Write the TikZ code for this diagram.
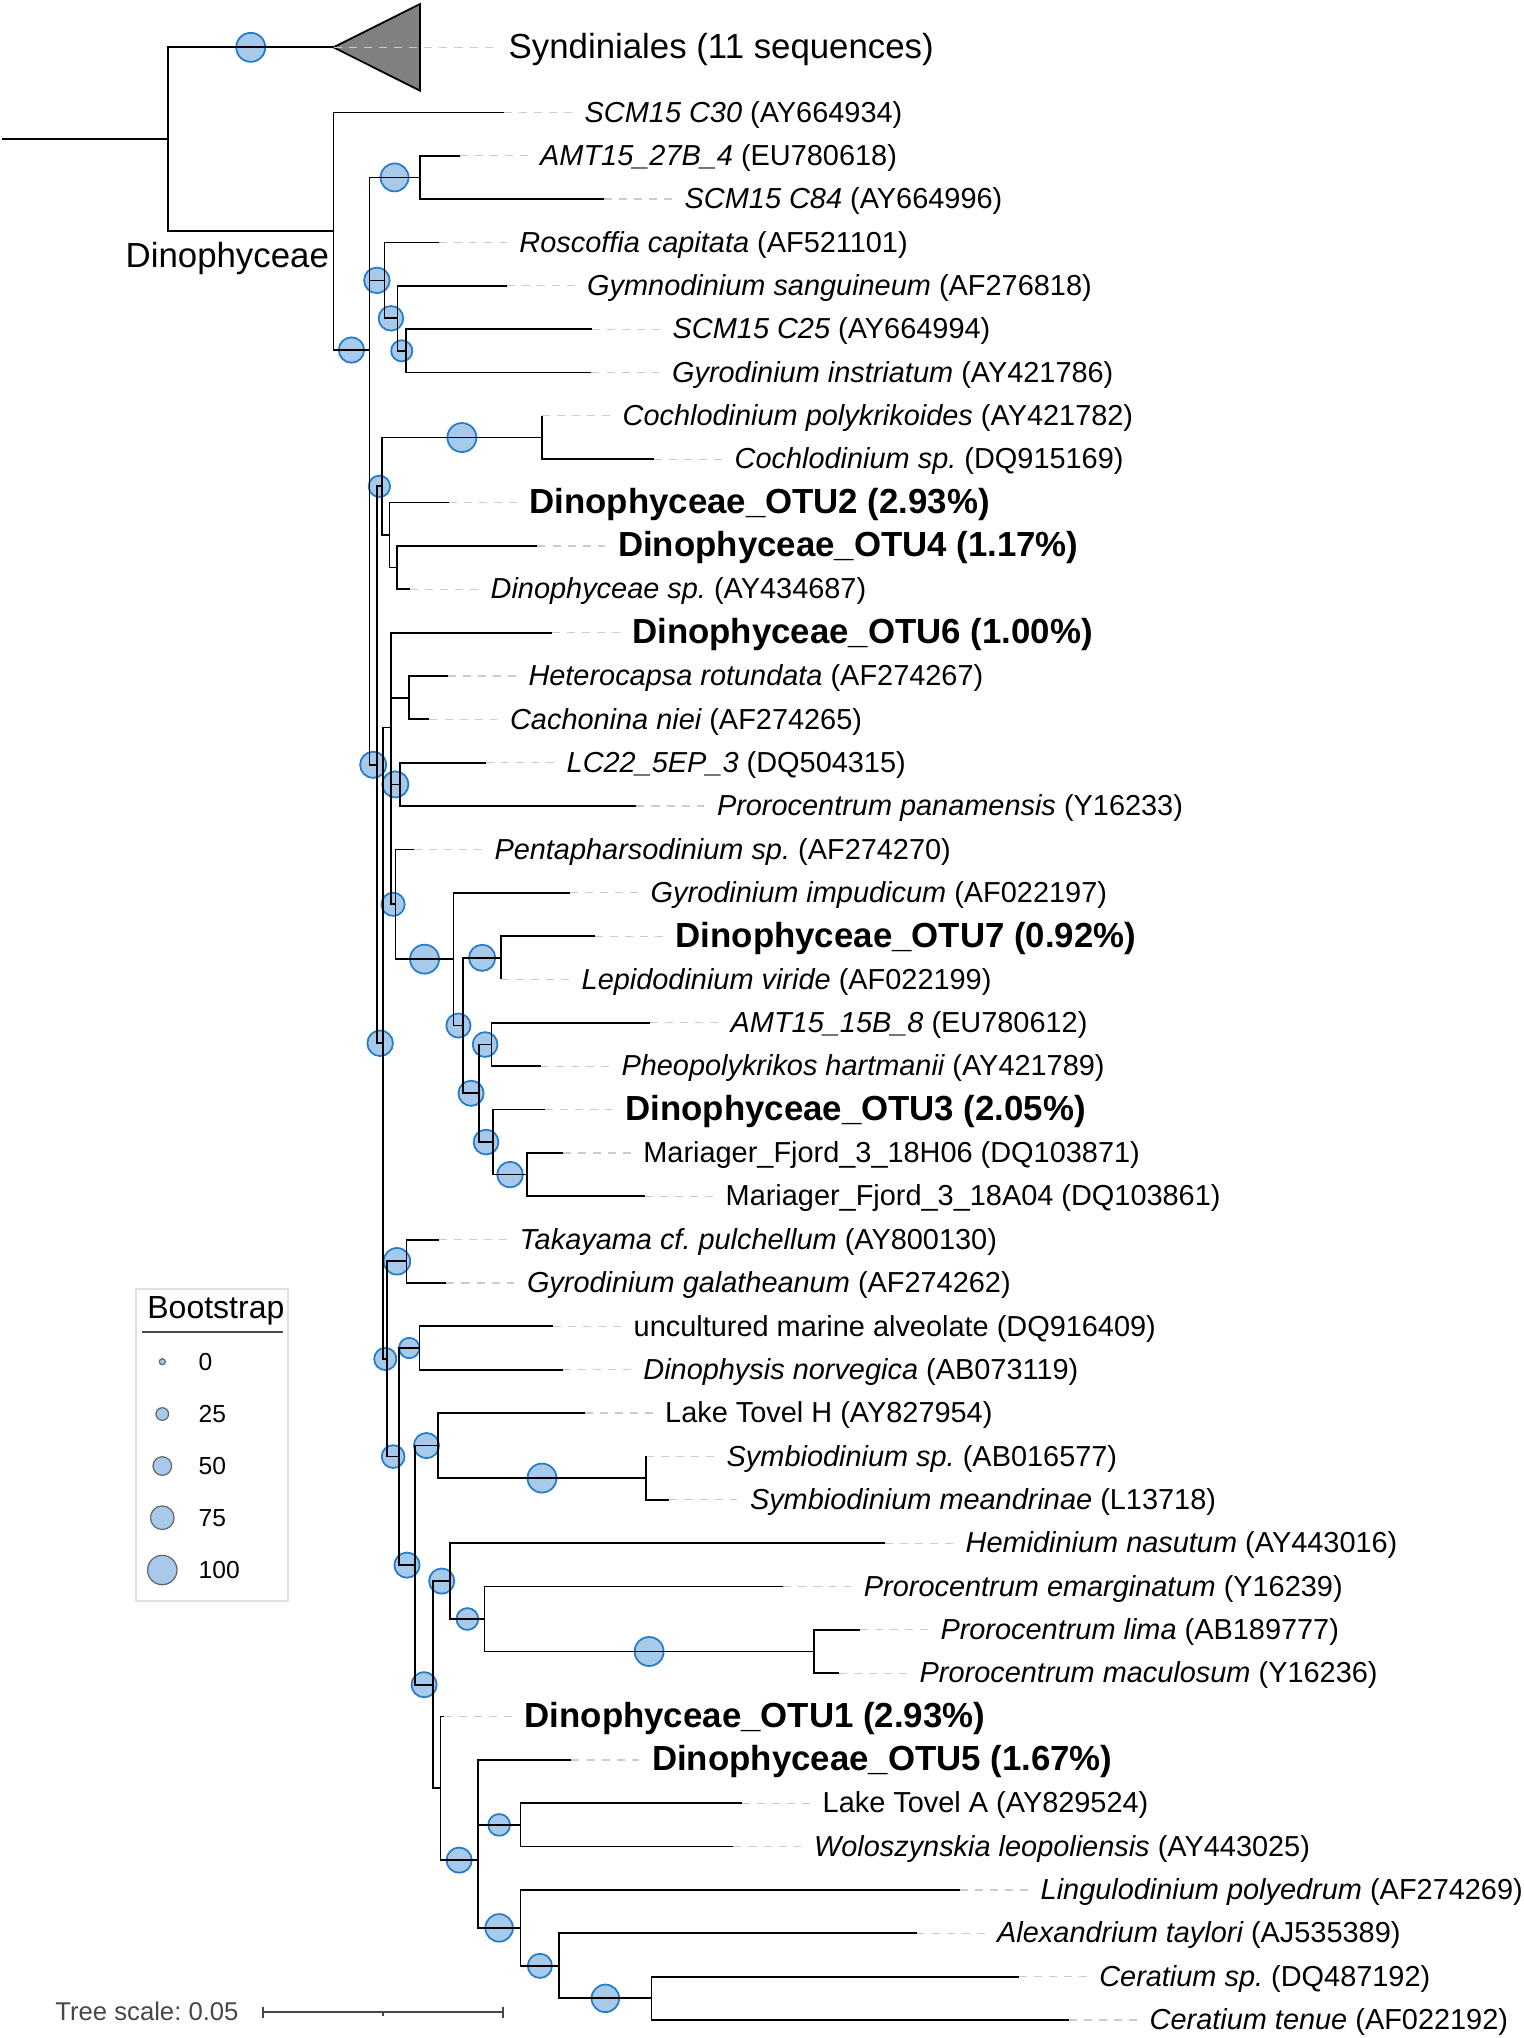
\documentclass[tikz,border=0pt]{standalone}
\usepackage{fontspec}
\setmainfont{Liberation Sans}
\usetikzlibrary{calc}
\frenchspacing

\definecolor{bootfill}{RGB}{168,202,234}
\definecolor{bootline}{RGB}{38,124,200}
\newcommand{\labfont}{\fontsize{8.22}{9.8}\selectfont}
\newcommand{\bigfont}{\fontsize{9.9}{11.9}\selectfont}

\tikzset{
    branch/.style={line width=0.5pt},
    leader/.style={draw=black!20, line width=0.35pt, dash pattern=on 2.3pt off 2pt, shorten >=3.4pt},
    boot/.style={fill=bootfill, draw=bootline, line width=0.5pt},
    bootkey/.style={fill=bootfill, draw=black!60, line width=0.35pt},
    taxon/.style={anchor=base west, inner sep=0pt, font=\labfont, yshift=-2.75pt},
    otu/.style={anchor=base west, inner sep=0pt, font=\bigfont\bfseries, yshift=-3.1pt},
    clade/.style={fill=black!50, draw=black, line width=0.5pt},
}

\begin{document}
\begin{tikzpicture}[x=0.01cm, y=-0.01cm]
    \path[use as bounding box, fill=white] (0,0) rectangle (1524,2038);

    \begin{scope}[yshift=-1.123cm, y=-0.4333cm]
        % internal nodes (x in px, y in rows)
        \coordinate (root) at (2,0.62);
        \coordinate (N0) at (168,0.62);
        \coordinate (Sy) at (333.5,-1.5);
        \coordinate (Dino) at (333.5,2.74);
        \coordinate (A) at (369.4,5.481);
        \coordinate (AMT) at (419.7,1.5);
        \coordinate (B) at (369.4,9.4615);
        \coordinate (R) at (384.4,3.875);
        \coordinate (G) at (397.5,4.75);
        \coordinate (H) at (406,5.5);
        \coordinate (C) at (377,15.048);
        \coordinate (C2) at (381.8,8.625);
        \coordinate (Co) at (542,7.5);
        \coordinate (O2) at (389.6,9.75);
        \coordinate (O4) at (396.9,10.5);
        \coordinate (D) at (383.3,21.471);
        \coordinate (P) at (390.7,14.19);
        \coordinate (K) at (390.7,16.383);
        \coordinate (J) at (390.7,14.5);
        \coordinate (HC) at (409.3,13.5);
        \coordinate (LP) at (400,15.5);
        \coordinate (Pn) at (395.5,18.266);
        \coordinate (GI) at (453.6,19.531);
        \coordinate (OL) at (463.3,21.0625);
        \coordinate (O7) at (501,19.5);
        \coordinate (M3) at (478.8,22.625);
        \coordinate (AP) at (491.4,21.5);
        \coordinate (O3) at (493.3,23.75);
        \coordinate (Mar) at (526.8,24.5);
        \coordinate (T) at (387.3,28.752);
        \coordinate (Tak) at (406.6,26.5);
        \coordinate (Nd) at (399,31.004);
        \coordinate (Dp) at (419.5,28.5);
        \coordinate (X) at (415,33.508);
        \coordinate (Sym) at (438,30.75);
        \coordinate (Sy2) at (646,31.5);
        \coordinate (Y) at (433.2,36.266);
        \coordinate (Hem) at (450.2,33.875);
        \coordinate (Pr) at (484.6,34.75);
        \coordinate (Pl) at (813.7,35.5);
        \coordinate (Z) at (440.5,38.656);
        \coordinate (W) at (477.8,40.3125);
        \coordinate (Wp) at (477.8,38.75);
        \coordinate (LW) at (520.5,39.5);
        \coordinate (Ling) at (520.5,41.875);
        \coordinate (Al) at (559.3,42.75);
        \coordinate (Ce) at (651.4,43.5);

        % collapsed clade
        \filldraw[clade] (Sy) -- (420,-2.5) -- (420,-0.5) -- cycle;
        \node[otu, font=\bigfont] (SyL) at (508,-1.5) {Syndiniales (11 sequences)};
        \draw[leader, shorten >=4pt] (Sy) -- (Sy -| SyL.west);
        \node[anchor=base west, inner sep=0pt, font=\bigfont] (DinoL) at (125,3.568) {Dinophyceae};

        % leaves
        \foreach \r/\x/\t in {
            0/504/{{\itshape SCM15 C30} (AY664934)},
            1/459.5/{{\itshape AMT15\_27B\_4} (EU780618)},
            2/604/{{\itshape SCM15 C84} (AY664996)},
            3/438.7/{{\itshape Roscoffia capitata} (AF521101)},
            4/506.5/{{\itshape Gymnodinium sanguineum} (AF276818)},
            5/592/{{\itshape SCM15 C25} (AY664994)},
            6/591.4/{{\itshape Gyrodinium instriatum} (AY421786)},
            7/542/{{\itshape Cochlodinium polykrikoides} (AY421782)},
            8/654/{{\itshape Cochlodinium sp.} (DQ915169)},
            11/410/{{\itshape Dinophyceae sp.} (AY434687)},
            13/447.8/{{\itshape Heterocapsa rotundata} (AF274267)},
            14/429.4/{{\itshape Cachonina niei} (AF274265)},
            15/486/{{\itshape LC22\_5EP\_3} (DQ504315)},
            16/636.3/{{\itshape Prorocentrum panamensis} (Y16233)},
            17/413.8/{{\itshape Pentapharsodinium sp.} (AF274270)},
            18/570/{{\itshape Gyrodinium impudicum} (AF022197)},
            20/501/{{\itshape Lepidodinium viride} (AF022199)},
            21/650/{{\itshape AMT15\_15B\_8} (EU780612)},
            22/540.8/{{\itshape Pheopolykrikos hartmanii} (AY421789)},
            24/562.7/{Mariager\_Fjord\_3\_18H06 (DQ103871)},
            25/645/{Mariager\_Fjord\_3\_18A04 (DQ103861)},
            26/439/{{\itshape Takayama cf. pulchellum} (AY800130)},
            27/446.3/{{\itshape Gyrodinium galatheanum} (AF274262)},
            28/553/{uncultured marine alveolate (DQ916409)},
            29/562.7/{{\itshape Dinophysis norvegica} (AB073119)},
            30/584.5/{Lake Tovel H (AY827954)},
            31/646/{{\itshape Symbiodinium sp.} (AB016577)},
            32/669.3/{{\itshape Symbiodinium meandrinae} (L13718)},
            33/885/{{\itshape Hemidinium nasutum} (AY443016)},
            34/783.2/{{\itshape Prorocentrum emarginatum} (Y16239)},
            35/859.8/{{\itshape Prorocentrum lima} (AB189777)},
            36/839/{{\itshape Prorocentrum maculosum} (Y16236)},
            39/742/{Lake Tovel A (AY829524)},
            40/733.3/{{\itshape Woloszynskia leopoliensis} (AY443025)},
            41/960/{{\itshape Lingulodinium polyedrum} (AF274269)},
            42/916.5/{{\itshape Alexandrium taylori} (AJ535389)},
            43/1018.6/{{\itshape Ceratium sp.} (DQ487192)},
            44/1069/{{\itshape Ceratium tenue} (AF022192)}}{
            \coordinate (L\r) at (\x,\r);
            \node[taxon] (T\r) at (\x+80,\r) {\t};
            \draw[leader] (L\r) -- (L\r -| T\r.west);
        }
        \foreach \r/\x/\t in {
            9/448.7/{Dinophyceae\_OTU2 (2.93\%)},
            10/537.4/{Dinophyceae\_OTU4 (1.17\%)},
            12/551.5/{Dinophyceae\_OTU6 (1.00\%)},
            19/595/{Dinophyceae\_OTU7 (0.92\%)},
            23/544.7/{Dinophyceae\_OTU3 (2.05\%)},
            37/444/{Dinophyceae\_OTU1 (2.93\%)},
            38/571.4/{Dinophyceae\_OTU5 (1.67\%)}}{
            \coordinate (L\r) at (\x,\r);
            \node[otu] (T\r) at (\x+80,\r) {\t};
            \draw[leader] (L\r) -- (L\r -| T\r.west);
        }

        % bootstrap circles, on the middle of each branch
        \foreach \p/\c/\s in {N0/Sy/14.5, Dino/A/12.7, A/AMT/14, B/R/12.8, R/G/12.3,
            G/H/10.6, C2/Co/14.5, B/C/13.1, C/C2/10.7, C/D/12.8, J/LP/13.1,
            K/Pn/11.6, Pn/GI/14.5, GI/OL/12.1, OL/O7/13.1, OL/M3/12.6,
            M3/AP/12.4, M3/O3/12.4, O3/Mar/12.8, D/T/11.1, T/Tak/13.3,
            T/Nd/11.4, Nd/Dp/10.2, Nd/X/12.6, X/Sym/12.6, Sym/Sy2/14.5,
            X/Y/12.6, Y/Hem/12.6, Hem/Pr/10.9, Pr/Pl/14.5, Z/W/12.6,
            Wp/LW/10.9, W/Ling/13.8, Ling/Al/12.1, Al/Ce/13.8}
            \filldraw[boot] ($(\p|-\c)!0.5!(\c)$) circle[radius=\s*0.01cm];

        % branches
        \draw[branch] (root) -- (N0);
        \foreach \p/\a/\b in {N0/Sy/Dino, Dino/L0/A, A/AMT/B, AMT/L1/L2, B/R/C,
            R/L3/G, G/L4/H, H/L5/L6, C/C2/D, C2/Co/O2, Co/L7/L8, O2/L9/O4,
            O4/L10/L11, D/P/T, P/L12/K, K/J/Pn, J/HC/LP, HC/L13/L14,
            LP/L15/L16, Pn/L17/GI, GI/L18/OL, OL/O7/M3, O7/L19/L20,
            M3/AP/O3, AP/L21/L22, O3/L23/Mar, Mar/L24/L25, T/Tak/Nd,
            Tak/L26/L27, Nd/Dp/X, Dp/L28/L29, X/Sym/Y, Sym/L30/Sy2,
            Sy2/L31/L32, Y/Hem/Z, Hem/L33/Pr, Pr/L34/Pl, Pl/L35/L36,
            Z/L37/W, W/Wp/Ling, Wp/L38/LW, LW/L39/L40, Ling/L41/Al,
            Al/L42/Ce, Ce/L43/L44}
            \draw[branch] (\a) -| (\p) |- (\b);
    \end{scope}

    % legend
    \draw[black!12, line width=0.5pt] (136.3,1289) rectangle (288.3,1601);
    \node[anchor=base west, inner sep=0pt, font=\fontsize{9.1}{11}\selectfont] (bsT) at (146.7,1318.3) {Bootstrap};
    \draw[black!70, line width=0.5pt] (142.3,1332) -- (283.3,1332);
    \foreach \v/\y/\s in {0/1361.7/3, 25/1414/6.3, 50/1466/9.3, 75/1517.7/11.8, 100/1570/14.7} {
        \filldraw[bootkey] (162.3,\y) circle[radius=\s*0.01cm];
        \node[anchor=west, inner sep=0pt, font=\fontsize{7}{8.4}\selectfont] (bs\v) at (198,\y) {\v};
    }

    % tree scale
    \node[anchor=west, inner sep=0pt, font=\fontsize{7.3}{8.8}\selectfont, text=black!72] (scaleT) at (54.7,2011) {Tree scale: 0.05};
    \draw[black!72, line width=0.6pt] (263.3,2006.5) -- (263.3,2017.5) (263.3,2012) -- (503.3,2012)
        (503.3,2006.5) -- (503.3,2017.5) (382.7,2012) -- (382.7,2015.5);
\end{tikzpicture}
\end{document}
